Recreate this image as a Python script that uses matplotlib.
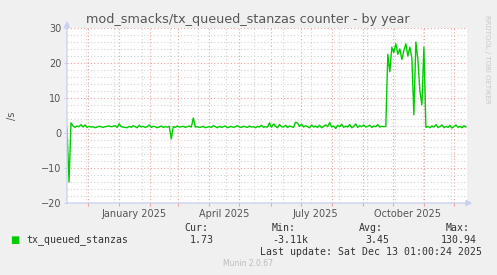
import datetime as dt
import matplotlib
matplotlib.use("Agg")
import matplotlib.pyplot as plt
import matplotlib.dates as mdates
import numpy as np

# daily averages sampled every 2 days, starting 2024-11-10
start = dt.datetime(2024, 11, 10)
step_days = 2
values = [
    1.4, -14.0, 2.9, 2.0, 1.6, 2.0, 1.8, 2.4, 1.7, 2.3,
    1.6, 1.9, 1.7, 1.8, 1.5, 1.7, 1.9, 1.8, 1.6, 1.8,
    1.9, 2.0, 1.8, 1.9, 2.1, 1.6, 2.6, 1.8, 1.7, 1.6,
    1.5, 1.9, 1.6, 2.1, 1.8, 1.5, 2.2, 1.7, 1.9, 1.6,
    1.8, 2.3, 1.6, 1.9, 1.8, 1.5, 1.7, 2.0, 1.6, 1.8,
    1.7, 1.9, -1.7, 1.8, 1.6, 2.0, 1.7, 1.8, 1.9, 1.6,
    1.8, 2.0, 1.7, 4.3, 1.7, 1.8, 1.6, 1.7, 1.9, 1.5,
    1.7, 1.8, 1.6, 2.1, 1.8, 1.5, 1.9, 1.6, 1.8, 2.0,
    1.5, 1.7, 1.9, 1.6, 1.8, 2.1, 1.7, 1.6, 1.9, 1.8,
    1.6, 2.0, 1.7, 1.8, 1.5, 1.9, 1.7, 2.2, 1.6, 1.8,
    1.7, 2.9, 1.6, 2.6, 1.9, 1.5, 2.4, 1.8, 1.7, 2.2,
    1.6, 2.0, 1.8, 1.6, 3.1, 2.8, 1.9, 2.5, 1.7, 2.1,
    1.8, 1.5, 2.3, 1.7, 2.0, 1.6, 2.2, 1.5, 1.9, 2.3,
    1.8, 3.0, 1.7, 2.0, 1.3, 2.2, 1.8, 2.5, 1.6, 2.0,
    1.7, 2.4, 1.5, 1.9, 2.6, 1.6, 2.1, 1.8, 2.3, 1.7,
    1.9, 2.2, 1.6, 2.0, 1.8, 2.4, 1.7, 1.9, 1.8, 1.9,
    22.5, 17.5, 24.5, 23.0, 25.5, 22.5, 24.0, 21.0, 23.5, 25.5,
    22.0, 24.5, 21.5, 5.2, 26.0, 21.0, 12.0, 8.0, 24.5, 1.6,
    1.9, 1.5, 2.0, 1.7, 2.4, 1.6, 1.8, 2.3, 1.5, 1.9,
    1.6, 2.2, 1.4, 1.8, 2.3, 1.6, 1.9, 1.5, 2.1, 1.73,
]
dates = [start + dt.timedelta(days=step_days * i) for i in range(len(values))]

title = "mod_smacks/tx_queued_stanzas counter - by year"
series_name = "tx_queued_stanzas"
stat_names = ["Cur:", "Min:", "Avg:", "Max:"]
stat_values = ["1.73", "-3.11k", "3.45", "130.94"]
last_update = "Last update: Sat Dec 13 01:00:24 2025"
month_labels = ["January 2025", "April 2025", "July 2025", "October 2025"]
month_label_dates = [dt.datetime(2025, 1, 16), dt.datetime(2025, 4, 16),
                     dt.datetime(2025, 7, 16), dt.datetime(2025, 10, 16)]

W, H = 497, 275
fig = plt.figure(figsize=(W / 100, H / 100), dpi=100, facecolor="#f0f0f0")
# plot area in pixels: x 67..467, y 28..203
ax = fig.add_axes([67 / W, 1 - 203 / H, 400 / W, 175 / H])
ax.set_facecolor("white")

ax.plot(dates, values, color="#00cc00", lw=1.0, zorder=3)

ax.set_xlim(dt.datetime(2024, 11, 10), dt.datetime(2025, 12, 14))
ax.set_ylim(-20, 30)

# grid: red at months / every 10, grey at 4 weeks / every 2
ax.xaxis.set_major_locator(mdates.MonthLocator())
ax.xaxis.set_minor_locator(mdates.RRuleLocator(
    mdates.rrulewrapper(mdates.WEEKLY, interval=4, dtstart=dt.datetime(2024, 11, 18))))
ax.set_yticks(np.arange(-20, 31, 10))
ax.set_yticks(np.arange(-20, 31, 2), minor=True)
ax.grid(which="major", color="#f0a0a0", ls=(0, (1, 2)), lw=0.8)
ax.grid(which="minor", color="#d4d4d4", ls=(0, (1, 2)), lw=0.8)
ax.set_axisbelow(True)

ax.tick_params(axis="x", which="major", labelbottom=False, length=2, color="#f0a0a0")
ax.tick_params(axis="x", which="minor", length=0)
ax.tick_params(axis="y", which="major", labelsize=7, labelcolor="#555555",
               length=2, color="#c8d0f0", pad=2)
ax.tick_params(axis="y", which="minor", length=0)
for s in ax.spines.values():
    s.set_visible(False)

sec = ax.secondary_xaxis("bottom")
sec.set_xticks(month_label_dates, month_labels)
sec.tick_params(length=0, labelsize=7, labelcolor="#555555", pad=4)
for s in sec.spines.values():
    s.set_visible(False)

# axis arrows
arrow = dict(arrowstyle="-|>,head_length=0.35,head_width=0.18", color="#c8d0f0", lw=0.9,
             shrinkA=0, shrinkB=0)
ax.annotate("", xy=(0, 1.04), xytext=(0, 0), xycoords="axes fraction",
            arrowprops=arrow, annotation_clip=False)
ax.annotate("", xy=(1.013, 0), xytext=(0, 0), xycoords="axes fraction",
            arrowprops=arrow, annotation_clip=False)

fig.text(248 / W, 1 - 19 / H, title, ha="center", va="center", fontsize=9.2,
         color="#555555")
fig.text(12 / W, 1 - 116 / H, "/s", rotation=90, ha="center", va="center",
         fontsize=7, color="#555555")
fig.text(487 / W, 1 - 15 / H, "RRDTOOL / TOBI OETIKER", rotation=-90, ha="center",
         va="top", fontsize=5.0, color="#c8c8c8")

mono = "DejaVu Sans Mono"
fig.text(15 / W, 1 - 240 / H, "\u25a0", ha="center", va="center", fontsize=7,
         color="#00cc00", family="DejaVu Sans")
fig.text(26 / W, 1 - 240 / H, series_name, ha="left", va="center", fontsize=7.1,
         color="#333333", family=mono)
head_x = [208, 296, 383, 470]
val_x = [214, 308, 389, 477]
for name, hx in zip(stat_names, head_x):
    fig.text(hx / W, 1 - 228 / H, name, ha="right", va="center", fontsize=7.1,
             color="#333333", family=mono)
for v, vx in zip(stat_values, val_x):
    fig.text(vx / W, 1 - 240 / H, v, ha="right", va="center", fontsize=7.1,
             color="#333333", family=mono)
fig.text(482 / W, 1 - 252 / H, last_update, ha="right", va="center", fontsize=7.1,
         color="#333333", family=mono)
fig.text(248 / W, 1 - 264 / H, "Munin 2.0.67", ha="center", va="center", fontsize=5.5,
         color="#bbbbbb")

fig.savefig("out.png", dpi=100, facecolor=fig.get_facecolor())
